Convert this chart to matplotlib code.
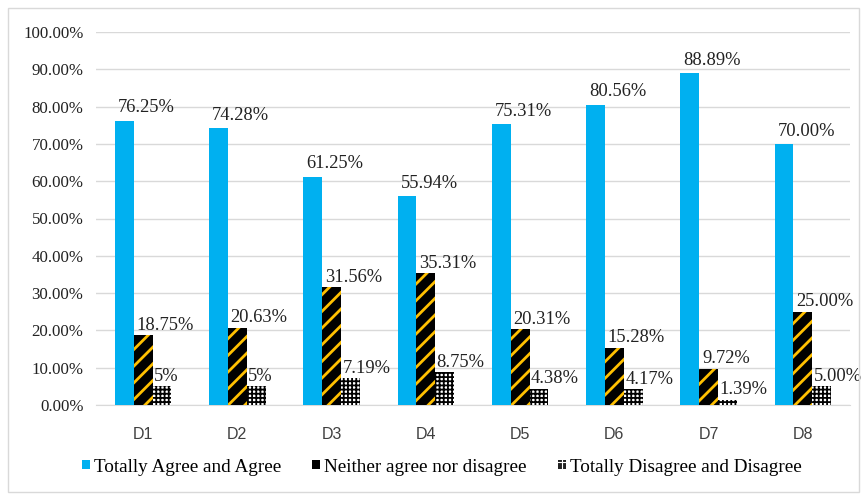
import numpy as np
import matplotlib
matplotlib.use("Agg")
import matplotlib.pyplot as plt
from matplotlib.patches import Rectangle, Patch

categories = ["D1", "D2", "D3", "D4", "D5", "D6", "D7", "D8"]
agree = [76.25, 74.28, 61.25, 55.94, 75.31, 80.56, 88.89, 70.00]
neutral = [18.75, 20.63, 31.56, 35.31, 20.31, 15.28, 9.72, 25.00]
disagree = [5.00, 5.00, 7.19, 8.75, 4.38, 4.17, 1.39, 5.00]
agree_lbl = ["76.25%", "74.28%", "61.25%", "55.94%", "75.31%", "80.56%", "88.89%", "70.00%"]
neutral_lbl = ["18.75%", "20.63%", "31.56%", "35.31%", "20.31%", "15.28%", "9.72%", "25.00%"]
disagree_lbl = ["5%", "5%", "7.19%", "8.75%", "4.38%", "4.17%", "1.39%", "5.00%"]
series_names = ["Totally Agree and Agree", "Neither agree nor disagree",
                "Totally Disagree and Disagree"]

serif = "Liberation Serif"
plt.rcParams["hatch.linewidth"] = 2.0

fig = plt.figure(figsize=(8.61, 4.96), dpi=100)
ax = fig.add_axes([96 / 861, 1 - 405 / 496, (850 - 96) / 861, (405 - 32) / 496])

x = np.arange(len(categories))
w = 0.2
b1 = ax.bar(x - w, agree, w, color="#00B0F0", zorder=3)
b2 = ax.bar(x, neutral, w, color="black", edgecolor="#FFC000", linewidth=0,
            hatch="//", zorder=3)
with plt.rc_context({"hatch.linewidth": 1.3}):
    b3 = ax.bar(x + w, disagree, w, color="white", edgecolor="black", linewidth=0,
                hatch="++++", zorder=3)

for bars, labels, dx, dy in [(b1, agree_lbl, 2, 6), (b2, neutral_lbl, 2, 4),
                             (b3, disagree_lbl, 1, 4)]:
    for rect, lab in zip(bars, labels):
        ax.annotate(lab, (rect.get_x(), rect.get_height()), xytext=(dx, dy),
                    textcoords="offset points", ha="left", va="baseline",
                    fontsize=13.3, family=serif, color="#222222")

ax.set_ylim(0, 100)
ax.set_xlim(-0.5, len(categories) - 0.5)
ax.set_yticks(np.arange(0, 101, 10))
ax.set_yticklabels([f"{v:.2f}%" for v in np.arange(0, 101, 10)], family=serif,
                   fontsize=12.2, color="#222222")
ax.set_xticks(x)
ax.set_xticklabels(categories, family="Liberation Sans", fontsize=11.5, color="#404040")
ax.tick_params(axis="both", length=0)
ax.tick_params(axis="y", pad=9)
ax.tick_params(axis="x", pad=16)
ax.grid(axis="y", color="#d9d9d9", linewidth=1, zorder=0)
for s in ["left", "right", "top"]:
    ax.spines[s].set_visible(False)
ax.spines["bottom"].set_color("#d9d9d9")

with plt.rc_context({"hatch.linewidth": 0.8}):
    handles = [Patch(facecolor="#00B0F0"),
               Patch(facecolor="black", edgecolor="#FFC000", hatch="/", linewidth=0),
               Patch(facecolor="#222222", edgecolor="white", hatch="++", linewidth=0)]
    fig.legend(handles, series_names, loc="center", bbox_to_anchor=(0.513, 1 - 467 / 496),
               ncol=3, frameon=False, prop={"family": serif, "size": 13.8},
               handlelength=0.4, handleheight=0.4, handletextpad=0.2, columnspacing=1.65)

fig.patches.append(Rectangle((8 / 861, 4 / 496), 851 / 861, 484 / 496,
                             transform=fig.transFigure, fill=False,
                             edgecolor="#d9d9d9", linewidth=1))

fig.savefig("out.png", dpi=100)
